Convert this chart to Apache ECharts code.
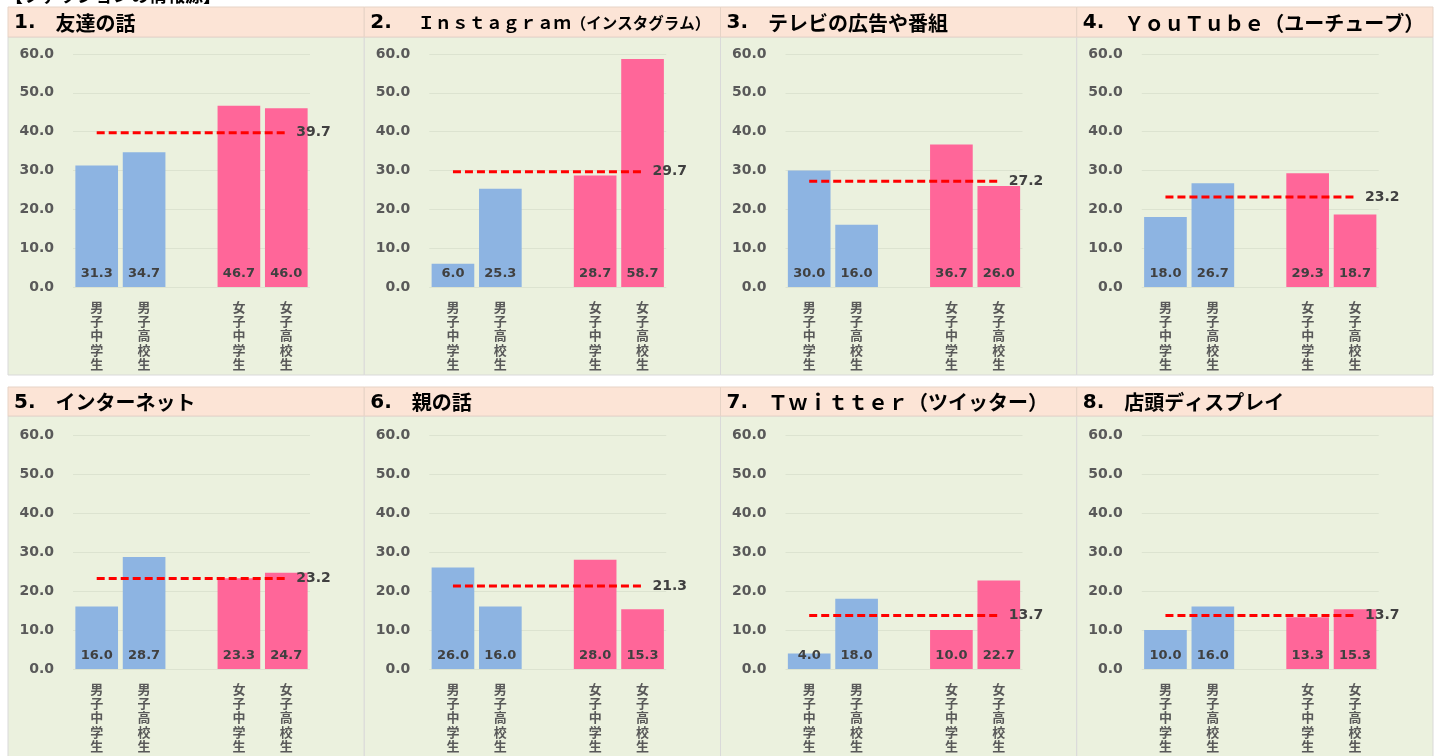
<!DOCTYPE html>
<html><head><meta charset="utf-8">
<script src="https://cdn.jsdelivr.net/npm/echarts@6/dist/echarts.min.js"></script>
<style>html,body{margin:0;padding:0;background:#fff}#c{width:1439px;height:756px}</style>
</head><body><div id="c"></div>
<script>
const categories = ['男子中学生', '男子高校生', '', '女子中学生', '女子高校生'];
const yTicks = { min: 0, max: 60, interval: 10 };
const pageHeading = '【ファッションの情報源】';

const titleNums = ['1.', '2.', '3.', '4.', '5.', '6.', '7.', '8.'];
const titleTexts = ['友達の話', 'Ｉｎｓｔａｇｒａｍ（インスタグラム）', 'テレビの広告や番組', 'ＹｏｕＴｕｂｅ（ユーチューブ）',
  'インターネット', '親の話', 'Ｔｗｉｔｔｅｒ（ツイッター）', '店頭ディスプレイ'];

const friends   = [31.3, 34.7, null, 46.7, 46.0];
const instagram = [6.0, 25.3, null, 28.7, 58.7];
const tv        = [30.0, 16.0, null, 36.7, 26.0];
const youtube   = [18.0, 26.7, null, 29.3, 18.7];
const internet  = [16.0, 28.7, null, 23.3, 24.7];
const parents   = [26.0, 16.0, null, 28.0, 15.3];
const twitter   = [4.0, 18.0, null, 10.0, 22.7];
const display   = [10.0, 16.0, null, 13.3, 15.3];
const averages  = [39.7, 29.7, 27.2, 23.2, 23.2, 21.3, 13.7, 13.7];

const panelValues = [friends, instagram, tv, youtube, internet, parents, twitter, display];

const BLUE = '#8DB4E2', PINK = '#FF6699';
const NUM_FONT = '"DejaVu Sans", "Noto Sans CJK JP", sans-serif';
const JP_FONT = '"Noto Sans CJK JP", sans-serif';

const panelW = 356.25, panelX0 = 8;
const rows = [
  { bandTop: 7, bandH: 30, plotTop: 37, plotH: 338, gridTop: 54, gridH: 233 },
  { bandTop: 387, bandH: 29, plotTop: 416, plotH: 345, gridTop: 435, gridH: 234 }
];

const grids = [], xAxes = [], yAxes = [], series = [], graphics = [];

graphics.push({ type: 'text', left: 5, top: -14, z: 10,
  style: { text: pageHeading, fontSize: 18, fontWeight: 'bold', fontFamily: JP_FONT, fill: '#000' } });

function titleRich(k) {
  const t = titleTexts[k];
  if (k === 1) {
    const cut = t.indexOf('（');
    return '{a|' + titleNums[k] + '}{s|　}{l|' + t.slice(0, cut) + '}{k|' + t.slice(cut) + '}';
  }
  return '{a|' + titleNums[k] + '}{s|　}{b|' + t + '}';
}

for (let k = 0; k < 8; k++) {
  const c = k % 4, r = Math.floor(k / 4), R = rows[r];
  const px = panelX0 + c * panelW;
  graphics.push({ type: 'rect', z: 0, shape: { x: px, y: R.plotTop, width: panelW, height: R.plotH },
    style: { fill: '#EBF1DE', stroke: '#D9D9D9', lineWidth: 1 } });
  graphics.push({ type: 'rect', z: 0, shape: { x: px, y: R.bandTop, width: panelW, height: R.bandH },
    style: { fill: '#FCE4D6', stroke: '#E6D3C6', lineWidth: 1 } });
  graphics.push({ type: 'text', z: 5, x: px + 6, y: R.bandTop + R.bandH / 2 + 1,
    style: {
      text: titleRich(k),
      verticalAlign: 'middle',
      rich: {
        a: { fontSize: 20, fontWeight: 'bold', fontFamily: NUM_FONT, fill: '#000', verticalAlign: 'middle' },
        s: { fontSize: k === 1 ? 26 : 20, fontFamily: JP_FONT, fill: '#000', verticalAlign: 'middle' },
        b: { fontSize: 20, fontWeight: 'bold', fontFamily: JP_FONT, fill: '#000', verticalAlign: 'middle' },
        l: { fontSize: 17, fontWeight: 'bold', fontFamily: JP_FONT, fill: '#000', verticalAlign: 'middle' },
        k: { fontSize: 15.5, fontWeight: 'bold', fontFamily: JP_FONT, fill: '#000', verticalAlign: 'middle' }
      }
    } });

  grids.push({ left: px + 65, top: R.gridTop, width: 237, height: R.gridH, containLabel: false });
  xAxes.push({ type: 'category', gridIndex: k, data: categories,
    axisLine: { show: false }, axisTick: { show: false },
    axisLabel: { interval: 0, margin: 13, color: '#595959', fontSize: 13, lineHeight: 14.2, fontWeight: 'bold',
      fontFamily: JP_FONT, verticalAlign: 'top',
      formatter: v => v.split('').join('\n') } });
  yAxes.push({ type: 'value', gridIndex: k, min: yTicks.min, max: yTicks.max, interval: yTicks.interval,
    axisLine: { show: false }, axisTick: { show: false },
    splitLine: { lineStyle: { color: '#DCE3D0', width: 1 } },
    axisLabel: { margin: 19, color: '#595959', fontSize: 14, fontWeight: 'bold', fontFamily: NUM_FONT,
      formatter: v => v.toFixed(1) } });

  series.push({ type: 'bar', xAxisIndex: k, yAxisIndex: k, barWidth: '90%',
    data: panelValues[k].map((v, i) => v === null ? null : { value: v, itemStyle: { color: i < 2 ? BLUE : PINK } }),
    label: { show: true, position: 'insideBottom', distance: 7, color: '#404040', fontSize: 13,
      fontWeight: 'bold', fontFamily: NUM_FONT, formatter: p => p.value.toFixed(1) } });

  const avg = averages[k];
  series.push({ type: 'line', xAxisIndex: k, yAxisIndex: k, z: 5,
    symbol: 'circle', symbolSize: 0, showSymbol: true,
    lineStyle: { color: '#FF0000', width: 3, type: [8, 4] },
    data: categories.map((_, i) => i === categories.length - 1
      ? { value: avg, label: { show: true, position: 'right', distance: 10, color: '#404040', fontSize: 14,
          fontWeight: 'bold', fontFamily: NUM_FONT, formatter: () => avg.toFixed(1) } }
      : avg) });
}

const chart = echarts.init(document.getElementById('c'), null, { renderer: 'canvas' });
chart.setOption({
  animation: false,
  backgroundColor: '#fff',
  graphic: graphics,
  grid: grids, xAxis: xAxes, yAxis: yAxes, series: series
});
</script></body></html>
